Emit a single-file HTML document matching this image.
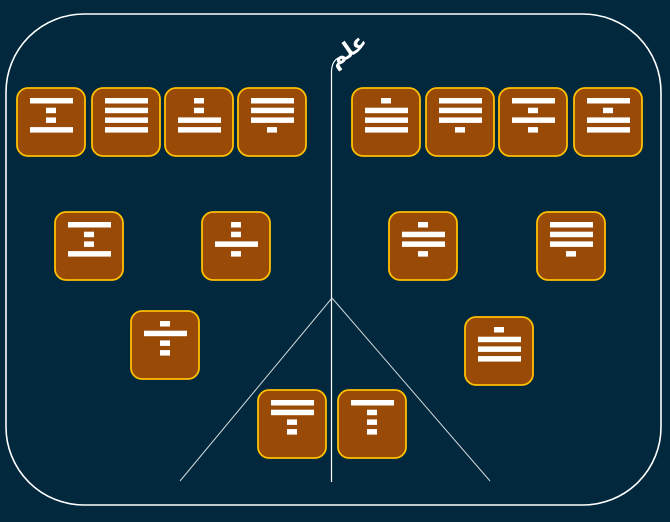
<!DOCTYPE html>
<html><head><meta charset="utf-8"><style>
html,body{margin:0;padding:0;background:#02283d;}
svg{display:block}
</style></head><body>
<svg width="670" height="522" viewBox="0 0 670 522" xmlns="http://www.w3.org/2000/svg">
<rect x="0" y="0" width="670" height="522" fill="#02283d"/>
<rect x="6" y="14" width="655" height="491" rx="78" ry="78" fill="none" stroke="#ffffff" stroke-width="1.6"/>
<path d="M331.5 482 L331.5 72 Q331.5 62 338 58" fill="none" stroke="#ffffff" stroke-width="1.2"/>
<line x1="332" y1="298" x2="180" y2="481" stroke="#cfd8dc" stroke-width="1"/>
<line x1="332" y1="298" x2="490" y2="481" stroke="#cfd8dc" stroke-width="1"/>
<text x="346" y="58" fill="#ffffff" font-size="22" font-weight="bold" text-anchor="middle" transform="rotate(-35 346 48)" font-family="'DejaVu Sans', 'Noto Sans CJK SC', sans-serif">علم</text>
<g id="boxes"></g>
</svg>
<script>
var boxes=[
[17,88,"WSSW"],[92,88,"WWWW"],[165,88,"SSWW"],[238,88,"WWWS"],
[352,88,"SWWW"],[426,88,"WWWS"],[499,88,"WSWS"],[574,88,"WSWW"],
[55,212,"WSSW"],[202,212,"SSWS"],[389,212,"SWWS"],[537,212,"WWWS"],
[131,311,"SWSS"],[465,317,"SWWW"],[258,390,"WWSS"],[338,390,"WSSS"]];
var g=document.getElementById("boxes"),s="";
boxes.forEach(function(b){
 var x=b[0],y=b[1];
 s+='<rect x="'+x+'" y="'+y+'" width="68" height="68" rx="11" fill="#994a07" stroke="#ffc000" stroke-width="1.8"/>';
 for(var i=0;i<b[2].length;i++){
  var yy=y+10+i*9.7;
  if(b[2][i]=="W") s+='<rect x="'+(x+13)+'" y="'+yy+'" width="43" height="5.5" fill="#ffffff"/>';
  else s+='<rect x="'+(x+29)+'" y="'+yy+'" width="10" height="5.5" fill="#ffffff"/>';
 }
});
g.innerHTML=s;
</script>
</body></html>
